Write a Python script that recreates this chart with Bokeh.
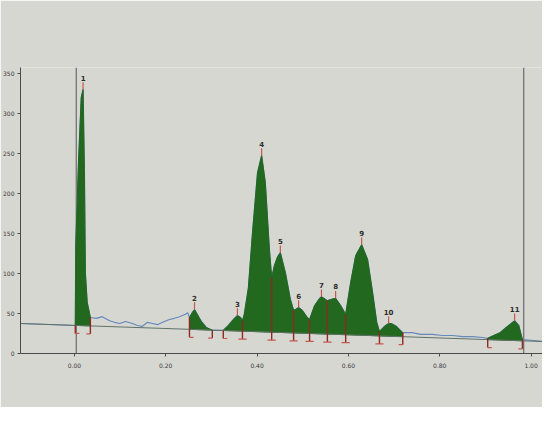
import numpy as np
from bokeh.plotting import figure
from bokeh.models import Range1d, FixedTicker, Label
from bokeh.embed import file_html
from bokeh.resources import INLINE
from bokeh.core.properties import value

# ---- densitometric scan profile (Rf, intensity) ----
RF = [-0.118, 0.002, 0.003, 0.009, 0.015, 0.019, 0.022, 0.024, 0.028, 0.035,
      0.048, 0.061, 0.077, 0.088, 0.099, 0.112, 0.127, 0.138, 0.149, 0.160,
      0.171, 0.182, 0.193, 0.208, 0.219, 0.230, 0.243, 0.248, 0.252, 0.258,
      0.263, 0.269, 0.278, 0.289, 0.302, 0.314, 0.326, 0.337, 0.348, 0.357,
      0.364, 0.368, 0.372, 0.381, 0.390, 0.401, 0.410, 0.418, 0.427, 0.432,
      0.438, 0.445, 0.451, 0.462, 0.473, 0.480, 0.484, 0.491, 0.499, 0.510,
      0.515, 0.526, 0.537, 0.541, 0.550, 0.554, 0.561, 0.572, 0.583, 0.594,
      0.605, 0.616, 0.629, 0.642, 0.653, 0.662, 0.668, 0.679, 0.688, 0.694,
      0.705, 0.719, 0.740, 0.758, 0.784, 0.806, 0.828, 0.850, 0.872, 0.894,
      0.905, 0.918, 0.932, 0.942, 0.953, 0.964, 0.973, 0.977, 0.981, 1.025]
INTENSITY = [37.5, 35, 135, 239, 320, 330, 226, 101, 64, 45,
             44, 46, 41, 39, 37.5, 40, 37.5, 35, 34, 39,
             37.5, 36, 39, 42.5, 44, 46, 49, 51, 45, 51,
             55, 49, 40, 32.5, 29, 29, 29, 35, 42.5, 47.5,
             45, 41, 49, 82, 151, 226, 247.5, 214, 130, 95,
             110, 121, 126, 101, 67.5, 54, 55, 57.5, 54, 45,
             42.5, 60, 69, 71, 67.5, 66, 67.5, 69, 60, 49,
             89, 122.5, 136, 117.5, 76, 39, 27.5, 34, 37.5, 37.5,
             34, 26, 26, 24, 24, 22.5, 22.5, 21, 21, 20,
             19, 22.5, 26, 31, 36, 41, 35, 26, 17.5, 15]

# baseline (straight line end points)
BASE_RF = [-0.118, 1.025]
BASE_I = [37.5, 15.0]

# integrated peaks
PEAK_NO = ["1", "2", "3", "4", "5", "6", "7", "8", "9", "10", "11"]
PEAK_START = [0.002, 0.252, 0.326, 0.368, 0.432, 0.480, 0.515, 0.554, 0.594, 0.668, 0.905]
PEAK_END = [0.035, 0.302, 0.368, 0.432, 0.480, 0.515, 0.554, 0.594, 0.668, 0.719, 0.981]

START_RF = 0.004
FRONT_RF = 0.984

X_TICKS = [0.0, 0.2, 0.4, 0.6, 0.8, 1.0]
X_TICK_LABELS = ["0.00", "0.20", "0.40", "0.60", "0.80", "1.00"]
Y_TICKS = [0, 50, 100, 150, 200, 250, 300, 350]

BG = "#d7d7d2"
GREEN = "#22681f"
BLUE = "#6688bb"
RED = "#c4574e"
DARKRED = "#8a2c22"

rf = np.array(RF)
it = np.array(INTENSITY)


def base(x):
    return np.interp(x, BASE_RF, BASE_I)


p = figure(width=542, height=407, output_backend="svg", toolbar_location=None,
           x_range=Range1d(-0.118, 1.025), y_range=Range1d(0, 357.5),
           min_border_left=20, min_border_right=0, min_border_top=67,
           min_border_bottom=54)
p.background_fill_color = BG
p.border_fill_color = BG
p.outline_line_color = None
p.grid.visible = False

# axes styling
p.xaxis.ticker = FixedTicker(ticks=X_TICKS)
p.xaxis.major_label_overrides = {t: l for t, l in zip(X_TICKS, X_TICK_LABELS)}
p.yaxis.ticker = FixedTicker(ticks=Y_TICKS)
for ax in (p.xaxis, p.yaxis):
    ax.axis_line_color = "#4a4a4a"
    ax.major_tick_line_color = "#4a4a4a"
    ax.major_tick_out = 3
    ax.major_tick_in = 0
    ax.minor_tick_line_color = None
    ax.major_label_text_font_size = "6px"
    ax.major_label_text_color = "#3c3c3c"
    ax.major_label_text_font = "DejaVu Sans"
p.xaxis.major_label_standoff = 6
p.yaxis.major_label_standoff = 3

# start line and solvent front
p.segment(x0=[START_RF, FRONT_RF], y0=[0, 0], x1=[START_RF, FRONT_RF],
          y1=[357.5, 357.5], line_color="#555555", line_width=1)

# raw trace
p.line(RF, INTENSITY, line_color=BLUE, line_width=1.2)

# peak areas
xs, ys = [], []
for s, e in zip(PEAK_START, PEAK_END):
    m = (rf >= s - 1e-9) & (rf <= e + 1e-9)
    xs.append(list(rf[m]) + [e, s])
    ys.append(list(it[m]) + [float(base(e)), float(base(s))])
p.patches(xs, ys, fill_color=GREEN, line_color=GREEN, line_width=1)

# baseline
p.line(BASE_RF, BASE_I, line_color="#5f7268", line_width=1)

# boundary drop lines and feet
lookup = dict(zip(RF, INTENSITY))
bounds = sorted(set(PEAK_START) | set(PEAK_END))
p.segment(x0=bounds, y0=[lookup[b] for b in bounds], x1=bounds,
          y1=[float(base(b)) - 10 for b in bounds], line_color=DARKRED, line_width=1.4)
p.segment(x0=PEAK_START, y0=[float(base(s)) - 10 for s in PEAK_START],
          x1=[s + 0.009 for s in PEAK_START], y1=[float(base(s)) - 10 for s in PEAK_START],
          line_color=RED, line_width=1.2)
p.segment(x0=[e - 0.009 for e in PEAK_END], y0=[float(base(e)) - 10 for e in PEAK_END],
          x1=PEAK_END, y1=[float(base(e)) - 10 for e in PEAK_END],
          line_color=RED, line_width=1.2)

# apex ticks and peak numbers
apex_x, apex_y = [], []
for s, e in zip(PEAK_START, PEAK_END):
    m = (rf >= s - 1e-9) & (rf <= e + 1e-9)
    k = np.argmax(it[m])
    apex_x.append(float(rf[m][k]))
    apex_y.append(float(it[m][k]))
p.segment(x0=apex_x, y0=apex_y, x1=apex_x, y1=[y + 9 for y in apex_y],
          line_color=RED, line_width=1.2)
p.text(x=apex_x, y=apex_y, text=PEAK_NO, y_offset=-9, text_align="center",
       text_baseline="bottom", text_font_size="7px", text_font_style="bold",
       text_color="#2b2b2b", text_font=value("DejaVu Sans"))

p.add_layout(Label(x=518, y=-40, x_units="screen", y_units="screen", text="Rf",
                   text_align="right", text_font_size="6px", text_color="#3c3c3c",
                   text_font="DejaVu Sans"))

open("out.html", "w").write(file_html(p, INLINE))
